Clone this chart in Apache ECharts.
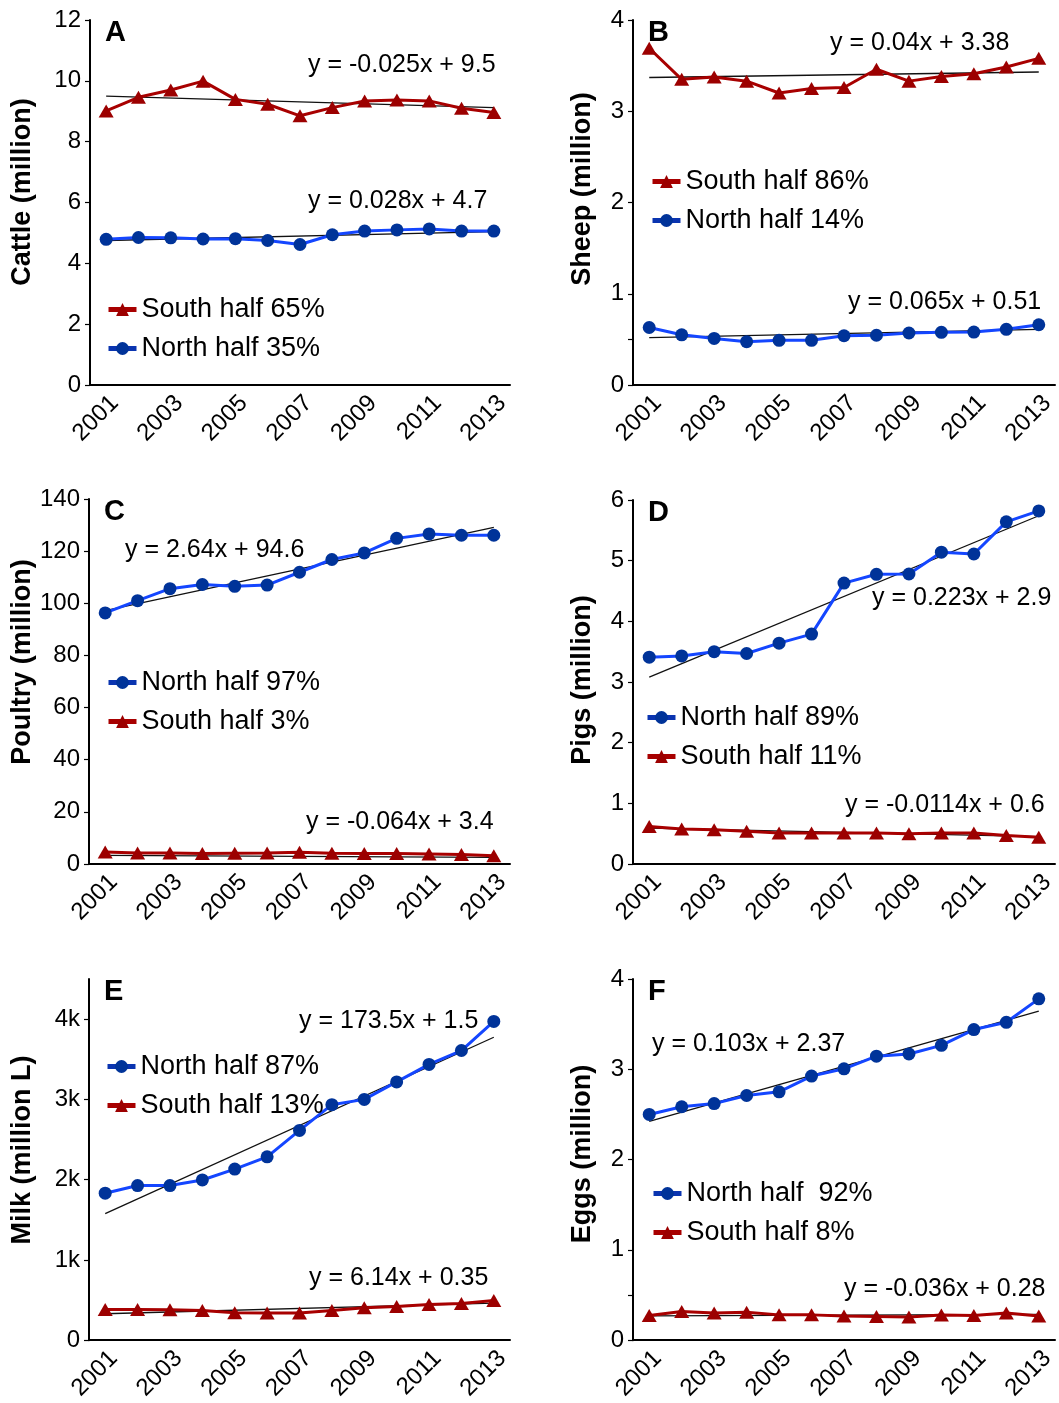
<!DOCTYPE html>
<html>
<head>
<meta charset="utf-8">
<script src="https://cdn.jsdelivr.net/npm/echarts@6/dist/echarts.min.js"></script>
<style>
html,body{margin:0;padding:0;background:#fff;}
#chart{width:1059px;height:1403px;}
</style>
</head>
<body>
<div id="chart"></div>
<script>
const years = ['2001','2002','2003','2004','2005','2006','2007','2008','2009','2010','2011','2012','2013'];

const cattleSouth = [9.01, 9.46, 9.70, 9.99, 9.39, 9.23, 8.85, 9.12, 9.34, 9.37, 9.34, 9.10, 8.96];
const cattleNorth = [4.79, 4.85, 4.84, 4.80, 4.81, 4.75, 4.62, 4.94, 5.06, 5.10, 5.13, 5.06, 5.06];
const cattleSouthTrend = [9.50, 9.12];
const cattleNorthTrend = [4.75, 5.04];

const sheepSouth = [3.69, 3.35, 3.375, 3.33, 3.20, 3.25, 3.26, 3.46, 3.33, 3.38, 3.41, 3.485, 3.58];
const sheepNorth = [0.63, 0.55, 0.51, 0.475, 0.49, 0.49, 0.54, 0.545, 0.57, 0.577, 0.58, 0.61, 0.66];
const sheepSouthTrend = [3.37, 3.43];
const sheepNorthTrend = [0.52, 0.61];

const poultryNorth = [96.3, 101.0, 105.6, 107.2, 106.5, 107.0, 111.9, 116.8, 119.3, 124.9, 126.6, 126.1, 126.1];
const poultrySouth = [4.6, 4.2, 4.2, 4.0, 4.1, 4.2, 4.5, 4.1, 4.0, 4.0, 3.8, 3.6, 3.2];
const poultryNorthTrend = [97.2, 129.1];
const poultrySouthTrend = [3.34, 2.57];

const pigsNorth = [3.41, 3.43, 3.50, 3.47, 3.64, 3.79, 4.63, 4.775, 4.78, 5.14, 5.11, 5.64, 5.82];
const pigsSouth = [0.62, 0.576, 0.565, 0.54, 0.51, 0.51, 0.51, 0.51, 0.50, 0.51, 0.51, 0.47, 0.44];
const pigsNorthTrend = [3.08, 5.74];
const pigsSouthTrend = [0.59, 0.45];

const milkNorth = [1831, 1926, 1926, 1996, 2132, 2284, 2613, 2934, 3000, 3218, 3436, 3609, 3971];
const milkSouth = [383, 383, 379, 370, 342, 337, 337, 370, 403, 420, 444, 457, 494];
const milkNorthTrend = [1576, 3774];
const milkSouthTrend = [329, 461];

const eggsNorth = [2.50, 2.585, 2.62, 2.71, 2.75, 2.925, 3.005, 3.145, 3.17, 3.265, 3.44, 3.52, 3.78];
const eggsSouth = [0.274, 0.318, 0.30, 0.31, 0.28, 0.28, 0.267, 0.263, 0.256, 0.278, 0.274, 0.30, 0.267];
const eggsNorthTrend = [2.424, 3.645];
const eggsSouthTrend = [0.27, 0.285];

const FONT = '"Liberation Sans", Arial, sans-serif';
const RED_LINE = '#a80000', RED_FILL = '#9c0000';
const BLUE_LINE = '#1446ff', BLUE_FILL = '#003399';
const BLUE_LEGEND = '#0a34b0';

const panels = [
  {letter:'A', title:'Cattle (million)', grid:{left:90, top:20, width:420, height:365},
   y:{min:0, max:12, interval:2}, titlePos:[23,192],
   series:[
     {name:'South half 65%', data:cattleSouth, trend:cattleSouthTrend, kind:'S'},
     {name:'North half 35%', data:cattleNorth, trend:cattleNorthTrend, kind:'N'}],
   legend:{left:106, top:296},
   eqs:[{t:'y = -0.025x + 9.5', x:308, y:65},{t:'y = 0.028x + 4.7', x:308, y:201}]},
  {letter:'B', title:'Sheep (million)', grid:{left:633, top:20, width:422, height:365},
   y:{min:0, max:4, interval:1, ticks:[0,0.5,1,2,3,4]}, titlePos:[583,189],
   series:[
     {name:'South half 86%', data:sheepSouth, trend:sheepSouthTrend, kind:'S'},
     {name:'North half 14%', data:sheepNorth, trend:sheepNorthTrend, kind:'N'}],
   legend:{left:650, top:168},
   eqs:[{t:'y = 0.04x + 3.38', x:830, y:43},{t:'y = 0.065x + 0.51', x:848, y:302}]},
  {letter:'C', title:'Poultry (million)', grid:{left:89, top:499, width:421, height:365},
   y:{min:0, max:140, interval:20}, titlePos:[23,662],
   series:[
     {name:'North half 97%', data:poultryNorth, trend:poultryNorthTrend, kind:'N'},
     {name:'South half 3%', data:poultrySouth, trend:poultrySouthTrend, kind:'S'}],
   legend:{left:106, top:669},
   eqs:[{t:'y = 2.64x + 94.6', x:125, y:550},{t:'y = -0.064x + 3.4', x:306, y:822}]},
  {letter:'D', title:'Pigs (million)', grid:{left:633, top:500, width:422, height:364},
   y:{min:0, max:6, interval:1}, titlePos:[583,680],
   series:[
     {name:'North half 89%', data:pigsNorth, trend:pigsNorthTrend, kind:'N'},
     {name:'South half 11%', data:pigsSouth, trend:pigsSouthTrend, kind:'S'}],
   legend:{left:645, top:704},
   eqs:[{t:'y = 0.223x + 2.9', x:872, y:598},{t:'y = -0.0114x + 0.6', x:845, y:805}]},
  {letter:'E', title:'Milk (million L)', grid:{left:89, top:979, width:421, height:364.5},
   y:{min:0, max:4500, interval:1000, ticks:[0,1000,2000,3000,4000], k:true}, titlePos:[23,1150],
   series:[
     {name:'North half 87%', data:milkNorth, trend:milkNorthTrend, kind:'N'},
     {name:'South half 13%', data:milkSouth, trend:milkSouthTrend, kind:'S'}],
   legend:{left:105, top:1053},
   eqs:[{t:'y = 173.5x + 1.5', x:299, y:1021},{t:'y = 6.14x + 0.35', x:309, y:1278}]},
  {letter:'F', title:'Eggs (million)', grid:{left:633, top:979, width:422, height:364.5},
   y:{min:0, max:4, interval:1, ticks:[0,0.5,1,2,3,4]}, titlePos:[583,1154],
   series:[
     {name:'North half  92%', data:eggsNorth, trend:eggsNorthTrend, kind:'N'},
     {name:'South half 8%', data:eggsSouth, trend:eggsSouthTrend, kind:'S'}],
   legend:{left:651, top:1180},
   eqs:[{t:'y = 0.103x + 2.37', x:652, y:1044},{t:'y = -0.036x + 0.28', x:844, y:1289}]}
];

const option = {
  animation:false,
  backgroundColor:'#fff',
  textStyle:{fontFamily:FONT},
  grid:[], xAxis:[], yAxis:[], series:[], legend:[], graphic:[]
};

panels.forEach((p, i) => {
  option.grid.push(Object.assign({containLabel:false}, p.grid));
  option.xAxis.push({
    type:'category', gridIndex:i, data:years, boundaryGap:true,
    axisLine:{lineStyle:{color:'#000', width:2}},
    axisTick:{alignWithLabel:true, interval:0, length:5, lineStyle:{color:'#000', width:1.2}},
    axisLabel:{interval:1, rotate:45, color:'#000', fontSize:24, fontFamily:FONT, margin:6,
      verticalAlign:'top'},
    splitLine:{show:false}
  });
  const ya = {
    type:'value', gridIndex:i, min:p.y.min, max:p.y.max, interval:p.y.interval,
    axisLine:{show:true, lineStyle:{color:'#000', width:2}},
    axisTick:{show:true, length:5, lineStyle:{color:'#000', width:1.2}},
    axisLabel:{color:'#000', fontSize:24, fontFamily:FONT, margin:9,
      formatter: p.y.k ? (v => v === 0 ? '0' : (v/1000) + 'k') : (v => String(v))},
    splitLine:{show:false}
  };
  if (p.y.ticks) {
    ya.axisTick.customValues = p.y.ticks;
    ya.axisLabel.customValues = p.y.ticks.filter(v => Number.isInteger(p.y.k ? v/1000 : v));
  }
  option.yAxis.push(ya);

  p.series.forEach(s => {
    option.series.push({
      type:'line', xAxisIndex:i, yAxisIndex:i, name:s.name + ' trend',
      data:[[years[0], s.trend[0]], [years[years.length-1], s.trend[1]]],
      symbol:'none', silent:true, z:2,
      lineStyle:{color:'#111', width:1.3}
    });
  });
  p.series.forEach(s => {
    const isS = s.kind === 'S';
    option.series.push({
      type:'line', xAxisIndex:i, yAxisIndex:i, name:s.name, data:s.data,
      symbol: isS ? 'triangle' : 'circle',
      symbolSize: isS ? [15,13] : 13,
      z:3,
      lineStyle:{color: isS ? RED_LINE : BLUE_LINE, width:3},
      itemStyle:{color: isS ? RED_FILL : BLUE_FILL, borderWidth:0}
    });
  });
  option.legend.push({
    data:p.series.map(s => ({
      name:s.name,
      lineStyle:{color: s.kind === 'S' ? RED_LINE : BLUE_LEGEND, width:5}
    })),
    orient:'vertical', left:p.legend.left, top:p.legend.top,
    itemWidth:28, itemHeight:16, itemGap:12, padding:0,
    selectedMode:false,
    textStyle:{fontSize:27, color:'#000', fontFamily:FONT}
  });
  option.graphic.push({
    type:'text', x:p.grid.left + 15, y:p.grid.top + 13,
    style:{text:p.letter, font:'bold 29px ' + FONT, fill:'#000', align:'left', verticalAlign:'middle'}
  });
  option.graphic.push({
    type:'text', x:p.titlePos[0], y:p.titlePos[1], rotation:Math.PI/2,
    style:{text:p.title, font:'bold 27px ' + FONT, fill:'#000', align:'center', verticalAlign:'middle'}
  });
  p.eqs.forEach(e => {
    option.graphic.push({
      type:'text', x:e.x, y:e.y,
      style:{text:e.t, font:'25px ' + FONT, fill:'#000', align:'left', verticalAlign:'middle'}
    });
  });
});

const chart = echarts.init(document.getElementById('chart'), null, {renderer:'canvas'});
chart.setOption(option);
</script>
</body>
</html>
